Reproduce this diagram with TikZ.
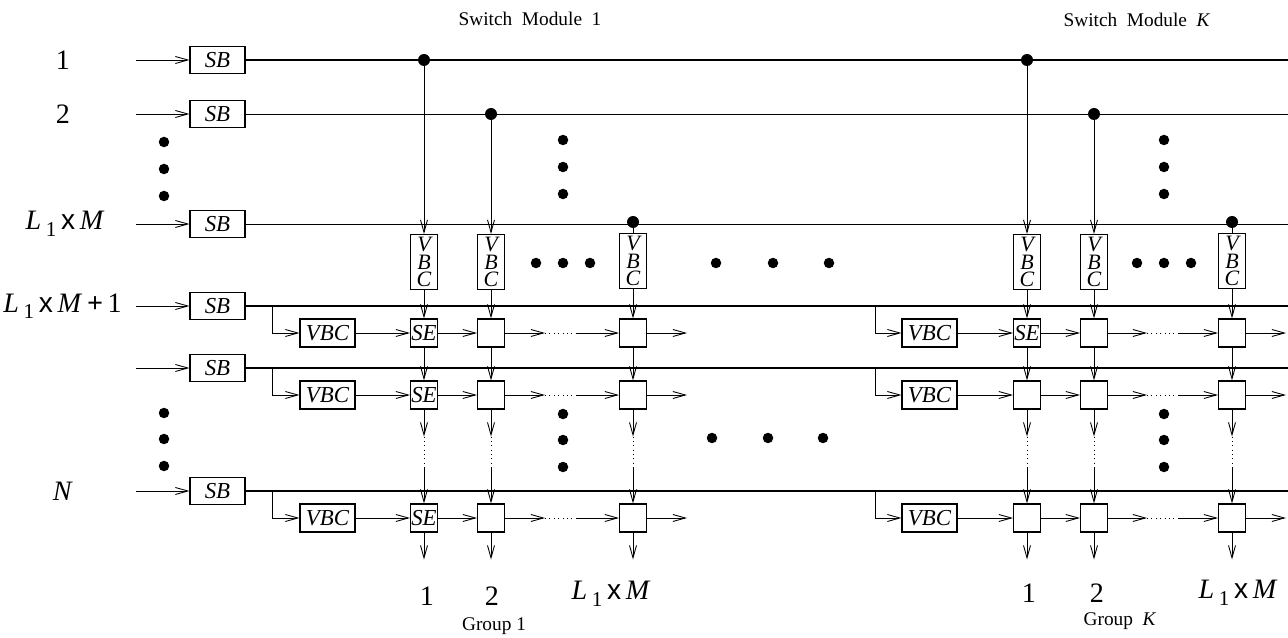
\documentclass[tikz,border=0pt]{standalone}
\usepackage{fontspec}
\setmainfont{Liberation Serif}
\usetikzlibrary{arrows.meta,calc}
\newcommand{\LM}{\textit{L}\,\raisebox{-0.5ex}{\fontsize{12}{12}\selectfont 1}\,{\fontspec{Liberation Sans}x}\,\textit{M}}
\begin{document}
\begin{tikzpicture}[x=0.02cm,y=-0.02cm,
  arr/.style={-{Straight Barb[length=2.5mm,width=1.4mm]}, line width=0.5pt},
  thin/.style={line width=0.5pt},
  thick/.style={line width=0.85pt},
  box/.style={draw, rectangle, inner sep=0pt, line width=0.6pt, font=\fontsize{13}{13}\selectfont\itshape},
  sbbox/.style={box, minimum width=1.1cm, minimum height=0.54cm},
  hvbc/.style={box, minimum width=1.1cm, minimum height=0.56cm},
  vvbc/.style={box, minimum width=0.54cm, minimum height=1.1cm, align=center, font=\fontsize{12.5}{9.8}\selectfont\itshape},
  sebox/.style={box, minimum width=0.54cm, minimum height=0.56cm},
  jdot/.style={circle, fill, inner sep=0pt, minimum size=0.24cm},
  ldot/.style={circle, fill, inner sep=0pt, minimum size=0.21cm},
  lab/.style={font=\fontsize{16}{18}\selectfont},
  small/.style={font=\fontsize{11}{12}\selectfont},
  dotl/.style={line width=0.5pt, dotted}
]
\useasboundingbox (0,0) rectangle (1288,638);

% titles
\node[small] (t1) at (530,19) {Switch\ \ Module\ \ 1};
\node[small] (tK) at (1137,20) {Switch\ \ Module\ \ \textit{K}};

% left labels
\node[lab] (l1) at (63,60) {1};
\node[lab] (l2) at (63,114) {2};
\node[lab] (l3) at (65,224) {\LM};
\node[lab, anchor=east] (l4) at (128,306) {\LM\,\textbf{+}\,1};
\node[lab] (l6) at (63,491) {\textit{N}};

% SB boxes and inputs
\foreach \n/\y in {1/60,2/114,3/224,4/306,5/368,6/491}{
  \node[sbbox] (sb\n) at (217.5,\y) {SB};
  \coordinate (in\n) at (136,\y);
  \coordinate (out\n) at (1288,\y);
  \draw[arr] (in\n) -- (sb\n.west);
}
\draw[thick] (sb1.east) -- (out1);
\draw[thin] (sb2.east) -- (out2);
\draw[thin] (sb3.east) -- (out3);
\draw[thick] (sb4.east) -- (out4);
\draw[thick] (sb5.east) -- (out5);
\draw[thick] (sb6.east) -- (out6);

% left vertical dots
\foreach \y [count=\i] in {142,169,196}{ \node[ldot] (ld1\i) at (164,\y) {}; }
\foreach \y [count=\i] in {413,439,466}{ \node[ldot] (ld2\i) at (164,\y) {}; }

% modules
\foreach \m/\ca/\cb/\cc/\bx/\vx/\dx/\da/\db in {1/424/491/633/272/327.5/563/545/577, K/1027/1094/1232/875/929.5/1164/1147/1178}{
  % junction dots
  \node[jdot] (j\m a) at (\ca,60) {};
  \node[jdot] (j\m b) at (\cb,114) {};
  \node[jdot] (j\m c) at (\cc,222) {};
  % vertical VBC
  \node[vvbc] (v\m a) at (\ca,262) {V\\B\\C};
  \node[vvbc] (v\m b) at (\cb,262) {V\\B\\C};
  \node[vvbc] (v\m c) at (\cc,261) {V\\B\\C};
  \draw[arr] (j\m a) -- (v\m a.north);
  \draw[arr] (j\m b) -- (v\m b.north);
  \draw[thin] (j\m c) -- (v\m c.north);
  % dots
  \foreach \y [count=\i] in {140,167,194}{ \node[ldot] (vd\m\i) at (\dx,\y) {}; }
  \foreach \x [count=\i] in {-27,0,27}{ \node[ldot] (hd\m\i) at (\dx+\x,263) {}; }
  \foreach \y [count=\i] in {414,440,467}{ \node[ldot] (wd\m\i) at (\dx,\y) {}; }
  % rows
  \foreach \r/\y/\ly in {1/333/306,2/395/368,3/518/491}{
    \coordinate (br\m\r) at (\bx,\ly);
    \coordinate (bc\m\r) at (\bx,\y);
    \node[hvbc] (hv\m\r) at (\vx,\y) {VBC};
    \node[sebox] (a\m\r) at (\ca,\y) {};
    \node[sebox] (b\m\r) at (\cb,\y) {};
    \node[sebox] (c\m\r) at (\cc,\y) {};
    \draw[thin] (br\m\r) -- (bc\m\r);
    \draw[arr] (bc\m\r) -- (hv\m\r.west);
    \draw[arr] (hv\m\r.east) -- (a\m\r.west);
    \draw[arr] (a\m\r.east) -- (b\m\r.west);
    \coordinate (p\m\r) at (\da,\y);
    \coordinate (q\m\r) at (\db,\y);
    \draw[arr] (b\m\r.east) -- (p\m\r);
    \draw[dotl] (p\m\r) -- (q\m\r);
    \draw[arr] (q\m\r) -- (c\m\r.west);
    \coordinate (o\m\r) at (\cc+54,\y);
    \draw[arr] (c\m\r.east) -- (o\m\r);
  }
  % verticals in grid
  \foreach \c in {a,b,c}{
    \draw[arr] (v\m\c.south) -- (\c\m1.north);
    \draw[arr] (\c\m1.south) -- (\c\m2.north);
    \coordinate (s\m\c) at ($(\c\m2.south)+(0,27)$);
    \coordinate (u\m\c) at ($(\c\m3.north)+(0,-35)$);
    \draw[arr] (\c\m2.south) -- (s\m\c);
    \draw[dotl] (s\m\c) -- (u\m\c);
    \draw[arr] (u\m\c) -- (\c\m3.north);
    \coordinate (e\m\c) at ($(\c\m3.south)+(0,27)$);
    \draw[arr] (\c\m3.south) -- (e\m\c);
  }
}
% SE labels
\foreach \r in {1,2,3}{ \node[font=\fontsize{13}{13}\selectfont\itshape] (se1\r) at (a1\r) {SE}; }
\node[font=\fontsize{13}{13}\selectfont\itshape] (seK1) at (aK1) {SE};

% middle big dots
\foreach \x [count=\i] in {716,773,829}{ \node[ldot] (md\i) at (\x,263) {}; }
\foreach \x [count=\i] in {712,768,823}{ \node[ldot] (me\i) at (\x,438) {}; }

% bottom labels
\node[lab] (o11) at (427,596) {1};
\node[lab] (o12) at (492,596) {2};
\node[lab] (o13) at (611,594) {\LM};
\node[small] (g1) at (494,626) {Group 1};
\node[lab] (oK1) at (1029,593) {1};
\node[lab] (oK2) at (1097,593) {2};
\node[lab] (oK3) at (1238,593) {\LM};
\node[small] (gK) at (1120,621) {Group\ \ \textit{K}};
\end{tikzpicture}
\end{document}
